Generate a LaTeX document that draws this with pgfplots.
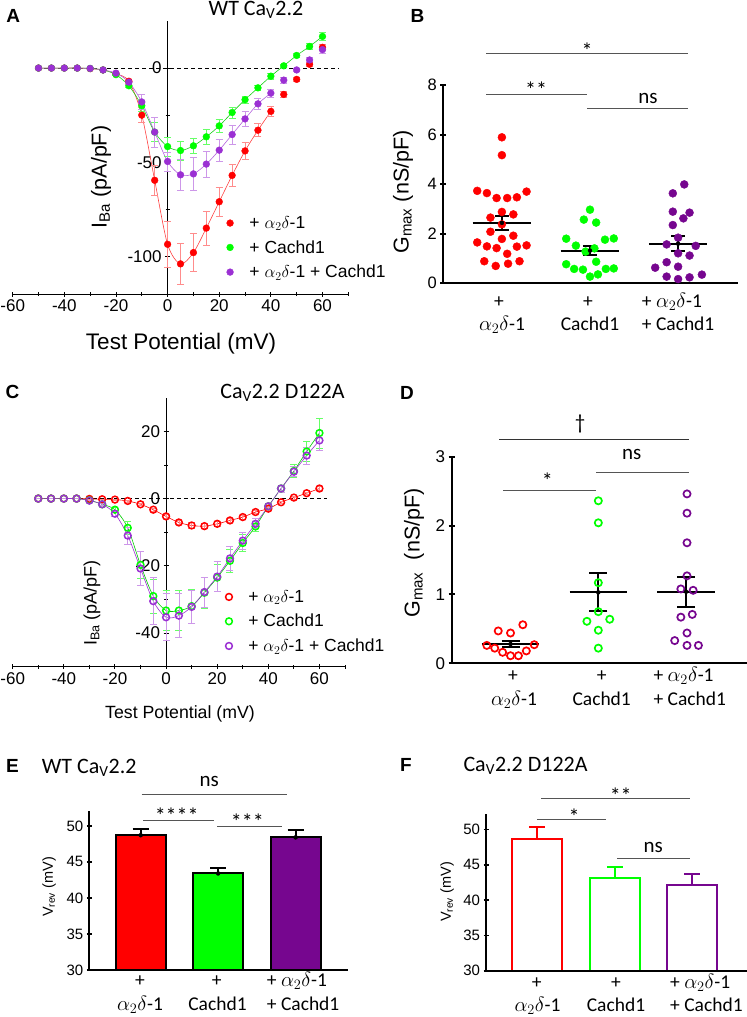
\documentclass[border=0pt]{standalone}
\usepackage{fontspec}
\setmainfont{Liberation Sans}
\newfontfamily\calib{Carlito}
\usepackage{pgfplots}
\pgfplotsset{compat=1.18}
\newcommand\fs[1]{\fontsize{#1bp}{#1bp}\selectfont}
\definecolor{cred}{HTML}{FF0000}
\definecolor{cgreen}{HTML}{00FF00}
\definecolor{cpurA}{HTML}{9B30D3}
\definecolor{cpurB}{HTML}{76068F}
\definecolor{sig}{HTML}{555555}
\pgfplotsset{
  /pgf/number format/assume math mode=true,
  noarr/.style={axis line style={-},
    every outer x axis line/.append style={-}, every outer y axis line/.append style={-},
    every inner x axis line/.append style={-}, every inner y axis line/.append style={-}},
  panel/.style={scale only axis, anchor=south west, clip=false, tick align=outside,
    tick style={black}},
  ivaxis/.style={panel, xmin=-60, xmax=70, axis x line=bottom, axis y line=center,
    xtick={-60,-40,...,60}, minor xtick={-50,-30,...,70},
    major tick length=5bp, minor tick length=4bp,
    axis line style={line width=1bp}, tick style={line width=0.9bp},
    tick label style={font=\fs{17}},
    legend cell align=left},
  legpos/.style={legend style={at={(axis description cs:#1)}, anchor=north west,
    draw=none, fill=none, inner sep=0pt, font=\fs{17.5}, row sep=8.5bp,
    nodes={inner sep=1bp}, /tikz/every odd column/.append style={column sep=15bp}}},
  errb/.style={error bars/.cd, y dir=both, y explicit,
    error bar style={draw=#1, line width=0.7bp},
    error mark options={rotate=90, draw=#1, mark size=3.5bp, line width=0.7bp}},
  fit/.style={no marks, smooth, line width=0.6bp, forget plot},
  dotaxis/.style={panel, axis x line=bottom, axis y line=left, xtick=\empty,
    major tick length=6bp, axis line style={line width=2.2bp},
    tick style={line width=2bp}},
  meanl/.style={black, line width=2bp, no marks, forget plot},
  sem/.style={black, only marks, mark=none, forget plot, error bars/.cd, y dir=both, y explicit,
    error bar style={draw=black, line width=2bp},
    error mark options={rotate=90, draw=black, mark size=#1, line width=2bp}},
  baraxis/.style={panel, clip=true, axis on top, axis x line=bottom, axis y line=left,
    xtick=\empty, ytick={30,35,...,50}, ymin=30, major tick length=5bp,
    tick label style={font=\fs{15}}},
}
\begin{document}
\begin{tikzpicture}
\useasboundingbox (0,0) rectangle (747bp,-1017bp);

% ---------- A ----------
\begin{axis}[ivaxis, at={(12.7bp,-294bp)}, width=335.6bp, height=273bp,
  ymin=-120, ymax=25, ytick={-100,-50,0}, minor ytick={-75,-25}, legpos={0.637,0.289}, noarr]
\draw[black, line width=0.9bp, dash pattern=on 4bp off 3bp] (axis cs:-50.4,0) -- (axis cs:66.4,0);
\addplot[fit, cred!75] coordinates {(-50,0)(-45,0)(-40,0)(-35,0)(-30,-0.3)(-25,-1)(-20,-3)(-15,-7)(-10,-25)(-5,-59.6)(0,-93.6)(5,-104)(10,-98)(15,-85)(20,-71)(25,-57)(30,-44)(35,-33)(40,-23)};
\addplot[fit, cgreen!80!black!90] coordinates {(-50,0)(-45,0)(-40,0)(-35,0)(-30,-0.2)(-25,-1)(-20,-3.5)(-15,-9.4)(-10,-20)(-5,-34)(0,-41.7)(5,-43.8)(10,-41.3)(15,-36.5)(20,-30.7)(25,-23.6)(30,-16.8)(35,-10.5)(40,-4.3)(45,1.2)(50,6.7)(55,11.5)(60,16.8)};
\addplot[fit, cpurA!75] coordinates {(-50,0)(-45,0)(-40,0)(-35,0)(-30,-0.2)(-25,-1)(-20,-2.7)(-15,-7.5)(-10,-18)(-5,-34)(0,-49.6)(5,-56.7)(10,-56.2)(15,-51)(20,-43.6)(25,-35.3)(30,-27)(35,-19)(40,-13.3)};
\addplot[only marks, mark=*, mark size=3.4bp, cred, errb=cred!45] table[y error=e] {
x y e
-50 0 0
-45 0 0
-40 0 0
-35 0 0
-30 -0.3 0
-25 -1 0.3
-20 -3 0.5
-15 -7 1
-10 -25 4
-5 -59.6 8
0 -93.6 12
5 -104 11
10 -98 10
15 -85 9
20 -71 7.5
25 -57 6
30 -44 4.5
35 -33 3.5
40 -23 2.5
45 -14 1.5
50 -6 1
55 2 1
60 11 1.5
};
\addlegendentry{+ $\alpha_2\delta$-1}
\addplot[only marks, mark=*, mark size=3.4bp, cgreen, errb=cgreen!60] table[y error=e] {
x y e
-50 0 0
-45 0 0
-40 0 0
-35 0 0
-30 -0.2 0
-25 -1 0.3
-20 -3.5 0.5
-15 -9.4 1
-10 -20 3
-5 -34 5
0 -41.7 5
5 -43.8 5
10 -41.3 4
15 -36.5 4
20 -30.7 3.5
25 -23.6 3
30 -16.8 2
35 -10.5 1.5
40 -4.3 1.5
45 1.2 1
50 6.7 1
55 11.5 1.5
60 16.8 2
};
\addlegendentry{+ Cachd1}
\addplot[only marks, mark=*, mark size=3.4bp, cpurA, errb=cpurA!50] table[y error=e] {
x y e
-50 0 0
-45 0 0
-40 0 0
-35 0 0
-30 -0.2 0
-25 -1 0.3
-20 -2.7 0.5
-15 -7.5 1
-10 -18 4
-5 -34 8
0 -49.6 5
5 -56.7 8
10 -56.2 9
15 -51 7
20 -43.6 6
25 -35.3 5
30 -27 4
35 -19 3
40 -13.3 2
45 -6.4 1.5
50 -1 1
55 4.3 1.5
60 9.8 2
};
\addlegendentry{+ $\alpha_2\delta$-1 + Cachd1}
\end{axis}

% ---------- C ----------
\begin{axis}[ivaxis, at={(12.7bp,-666.7bp)}, width=332.3bp, height=269bp,
  ymin=-50, ymax=30, ytick={-40,-20,0,20}, minor ytick={-30,-10,10}, legpos={0.640,0.289}, noarr]
\draw[black, line width=0.9bp, dash pattern=on 4bp off 3bp] (axis cs:-50.4,0) -- (axis cs:62.8,0);
\addplot[fit, cred] coordinates {(-50,0)(-45,0)(-40,0)(-35,0)(-30,-0.1)(-25,-0.2)(-20,-0.3)(-15,-0.7)(-10,-1.7)(-5,-3.3)(0,-5.3)(5,-7.1)(10,-8)(15,-8.2)(20,-7.5)(25,-6.5)(30,-5.5)(35,-4)(40,-3)(45,-1.1)(50,0.3)(55,1.6)(60,3)};
\addplot[fit, cgreen!80!black] coordinates {(-50,0)(-45,0)(-40,0)(-35,0)(-30,-0.5)(-25,-1.7)(-20,-3.3)(-15,-8.7)(-10,-19.7)(-5,-29)(0,-33.3)(5,-33.3)(10,-32)(15,-28)(20,-23.5)(25,-18.5)(30,-13.2)(35,-8.3)(40,-2.3)(45,3)(50,8.2)(55,14)(60,19.5)};
\addplot[fit, cpurA] coordinates {(-50,0)(-45,0)(-40,0)(-35,0)(-30,-0.6)(-25,-1.7)(-20,-4.5)(-15,-11)(-10,-20.8)(-5,-30.5)(0,-35.3)(5,-34.8)(10,-32.2)(15,-27.8)(20,-23.2)(25,-17.8)(30,-12.5)(35,-7.5)(40,-2.3)(45,3)(50,8)(55,12.8)(60,17.3)};
\addplot[only marks, mark=o, mark size=3.4bp, mark options={line width=1.5bp}, cred, errb=cred!45] table[y error=e] {
x y e
-50 0 0
-45 0 0
-40 0 0
-35 0 0
-30 -0.1 0
-25 -0.2 0
-20 -0.3 0.2
-15 -0.7 0.3
-10 -1.7 0.4
-5 -3.3 0.5
0 -5.3 0.6
5 -7.1 0.7
10 -8 0.8
15 -8.2 0.8
20 -7.5 0.8
25 -6.5 0.7
30 -5.5 0.6
35 -4 0.5
40 -3 0.5
45 -1.1 0.4
50 0.3 0.4
55 1.6 0.4
60 3 0.5
};
\addlegendentry{+ $\alpha_2\delta$-1}
\addplot[only marks, mark=o, mark size=3.4bp, mark options={line width=1.5bp}, cgreen, errb=cgreen!60] table[y error=e] {
x y e
-50 0 0
-45 0 0
-40 0 0
-35 0 0
-30 -0.5 0
-25 -1.7 0.3
-20 -3.3 0.8
-15 -8.7 2
-10 -19.7 4
-5 -29 5
0 -33.3 6
5 -33.3 6
10 -32 5
15 -28 4.5
20 -23.5 4
25 -18.5 3.5
30 -13.2 2.5
35 -8.3 1.5
40 -2.3 1
45 3 1
50 8.2 2
55 14 3
60 19.5 4.5
};
\addlegendentry{+ Cachd1}
\addplot[only marks, mark=o, mark size=3.4bp, mark options={line width=1.5bp}, cpurA, errb=cpurA!50] table[y error=e] {
x y e
-50 0 0
-45 0 0
-40 0 0
-35 0 0
-30 -0.6 0
-25 -1.7 0.3
-20 -4.5 0.8
-15 -11 2.5
-10 -20.8 5
-5 -30.5 7
0 -35.3 7
5 -34.8 6.5
10 -32.2 5
15 -27.8 4.5
20 -23.2 4.5
25 -17.8 3.5
30 -12.5 2.5
35 -7.5 1.5
40 -2.3 1
45 3 1
50 8 1.5
55 12.8 2.5
60 17.3 3
};
\addlegendentry{+ $\alpha_2\delta$-1 + Cachd1}
\end{axis}

% ---------- B ----------
\begin{axis}[dotaxis, at={(443.3bp,-283.3bp)}, width=294.7bp, height=198.3bp,
  xmin=0.335, xmax=3.68, ymin=0, ymax=8, ytick={0,2,...,8}, tick label style={font=\fs{16.5}}, noarr]
\addplot[only marks, mark=*, mark size=4bp, cred] coordinates {
(1.00,5.89)(1.00,5.17)(0.72,3.73)(0.83,3.64)(0.94,3.44)(1.06,3.44)(1.17,3.47)(1.28,3.70)
(1.00,2.88)(0.87,2.65)(1.13,2.78)(1.00,2.38)(0.87,2.08)(1.13,1.92)(1.00,1.79)(0.72,1.65)
(0.83,1.49)(0.94,1.42)(1.17,1.48)(1.28,1.53)(1.06,1.19)(0.80,0.89)(1.20,0.89)(0.93,0.70)(1.07,0.79)};
\addplot[only marks, mark=*, mark size=4bp, cgreen] coordinates {
(2.00,2.97)(1.93,2.57)(2.07,2.45)(1.73,1.80)(2.27,1.81)(2.17,1.76)(1.84,1.52)(1.95,1.28)
(2.05,1.41)(2.07,0.87)(1.73,0.77)(1.82,0.58)(1.92,0.55)(2.00,0.27)(2.09,0.36)(2.18,0.58)(2.27,0.60)};
\addplot[only marks, mark=*, mark size=4bp, cpurB] coordinates {
(3.07,3.99)(2.94,3.63)(2.94,2.89)(3.13,2.85)(3.06,2.62)(2.94,2.35)(3.00,1.84)(2.87,1.57)
(3.20,1.51)(3.00,1.21)(3.13,1.12)(2.87,0.85)(2.74,0.63)(3.00,0.67)(2.87,0.27)(3.00,0.17)(3.13,0.24)(3.27,0.35)};
\addplot[meanl] coordinates {(0.667,2.44)(1.333,2.44)};
\addplot[meanl] coordinates {(1.667,1.32)(2.333,1.32)};
\addplot[meanl] coordinates {(2.667,1.60)(3.333,1.60)};
\addplot[sem=7bp] coordinates {(1,2.44) +- (0,0.29) (2,1.32) +- (0,0.18) (3,1.60) +- (0,0.29)};
\end{axis}

% ---------- D ----------
\begin{axis}[dotaxis, at={(451.7bp,-663.3bp)}, width=295bp, height=206.6bp,
  xmin=0.33, xmax=3.69, ymin=0, ymax=3, ytick={0,1,2,3}, tick label style={font=\fs{17}}, noarr]
\addplot[only marks, mark=o, mark size=3.6bp, mark options={line width=1.7bp}, cred] coordinates {
(0.86,0.47)(1.00,0.44)(1.14,0.56)(0.73,0.26)(0.82,0.22)(0.91,0.16)(1.00,0.11)(1.09,0.11)(1.18,0.18)(1.27,0.27)};
\addplot[only marks, mark=o, mark size=3.6bp, mark options={line width=1.7bp}, cgreen] coordinates {
(2.00,2.36)(2.00,2.04)(2.00,1.17)(2.00,0.75)(1.87,0.61)(2.13,0.64)(2.00,0.48)(2.00,0.22)};
\addplot[only marks, mark=o, mark size=3.6bp, mark options={line width=1.7bp}, cpurB] coordinates {
(3.01,2.46)(3.01,2.18)(3.01,1.75)(3.01,1.27)(2.94,1.08)(3.08,1.06)(2.94,0.67)(3.07,0.71)(3.01,0.44)(2.87,0.33)(3.01,0.26)(3.14,0.26)};
\addplot[meanl] coordinates {(0.672,0.28)(1.328,0.28)};
\addplot[meanl] coordinates {(1.672,1.03)(2.328,1.03)};
\addplot[meanl] coordinates {(2.672,1.04)(3.328,1.04)};
\addplot[sem=9bp] coordinates {(1,0.28) +- (0,0.05) (2,1.03) +- (0,0.275) (3,1.04) +- (0,0.22)};
\end{axis}

% ---------- E ----------
\begin{axis}[baraxis, at={(89.3bp,-970bp)}, width=259bp, height=159.3bp,
  xmin=0.337, xmax=3.68, ymax=52.1, axis line style={line width=2bp}, tick style={line width=1.8bp}, noarr]
\addplot[ybar, bar width=50bp, bar shift=0pt, fill=cred, draw=black, line width=2bp] coordinates {(1,48.7)};
\addplot[ybar, bar width=50bp, bar shift=0pt, fill=cgreen, draw=black, line width=2bp] coordinates {(2,43.4)};
\addplot[ybar, bar width=50bp, bar shift=0pt, fill=cpurB, draw=black, line width=2bp] coordinates {(3,48.4)};
\addplot[black, only marks, mark=none, error bars/.cd, y dir=plus, y explicit,
  error bar style={draw=black, line width=2bp},
  error mark options={rotate=90, draw=black, mark size=8bp, line width=2bp}]
  coordinates {(1,48.7) +- (0,0.8) (2,43.4) +- (0,0.8) (3,48.4) +- (0,1.0)};
\end{axis}

% ---------- F ----------
\begin{axis}[baraxis, at={(486bp,-970.7bp)}, width=260.7bp, height=156.7bp,
  xmin=0.339, xmax=3.70, ymax=52.2, axis line style={line width=1.8bp}, tick style={line width=1.6bp}, noarr]
\addplot[ybar, bar width=50bp, bar shift=0pt, fill=white, draw=cred, line width=2bp,
  error bars/.cd, y dir=plus, y explicit, error bar style={draw=cred, line width=2bp},
  error mark options={rotate=90, draw=cred, mark size=8bp, line width=2bp}]
  coordinates {(1,48.7) +- (0,1.6)};
\addplot[ybar, bar width=50bp, bar shift=0pt, fill=white, draw=cgreen, line width=2bp,
  error bars/.cd, y dir=plus, y explicit, error bar style={draw=cgreen, line width=2bp},
  error mark options={rotate=90, draw=cgreen, mark size=8bp, line width=2bp}]
  coordinates {(2,43.2) +- (0,1.5)};
\addplot[ybar, bar width=50bp, bar shift=0pt, fill=white, draw=cpurB, line width=2bp,
  error bars/.cd, y dir=plus, y explicit, error bar style={draw=cpurB, line width=2bp},
  error mark options={rotate=90, draw=cpurB, mark size=8bp, line width=2bp}]
  coordinates {(3,42.1) +- (0,1.6)};
\end{axis}

% ---------- panel letters and titles ----------
\begin{scope}[every node/.style={font=\bfseries\fs{19}}]
\node at (13.3bp,-16.3bp) {A};
\node at (417.5bp,-16.3bp) {B};
\node at (12.5bp,-392bp) {C};
\node at (407bp,-393.3bp) {D};
\node at (12.5bp,-766.3bp) {E};
\node at (406bp,-765bp) {F};
\end{scope}
\node[font=\calib\fs{22}, anchor=base] at (256bp,-15bp) {WT Ca\textsubscript{V}2.2};
\node[font=\calib\fs{22}, anchor=base] at (282.5bp,-398.3bp) {Ca\textsubscript{V}2.2 D122A};
\node[font=\calib\fs{22}, anchor=base west, inner sep=0pt] at (41.7bp,-773.3bp) {WT Ca\textsubscript{V}2.2};
\node[font=\calib\fs{22}, anchor=base west, inner sep=0pt] at (463.3bp,-771.7bp) {Ca\textsubscript{V}2.2 D122A};

% ---------- axis labels ----------
\node[font=\fs{22.5}, anchor=base] at (181bp,-349.3bp) {Test Potential (mV)};
\node[font=\fs{17.7}, anchor=base] at (180bp,-718.3bp) {Test Potential (mV)};
\node[font=\fs{21.5}, rotate=90] at (101bp,-177bp) {I\textsubscript{Ba} (pA/pF)};
\node[font=\fs{18}, rotate=90] at (92bp,-603bp) {I\textsubscript{Ba} (pA/pF)};
\node[font=\fs{21.5}, rotate=90] at (403bp,-192bp) {G\textsubscript{max} (nS/pF)};
\node[font=\fs{21.5}, rotate=90] at (414bp,-553bp) {G\textsubscript{max}\ \ (nS/pF)};
\node[font=\fs{14.5}, rotate=90] at (49bp,-887bp) {V\textsubscript{rev} (mV)};
\node[font=\fs{14.5}, rotate=90] at (447bp,-892bp) {V\textsubscript{rev} (mV)};

% ---------- category labels ----------
\begin{scope}[every node/.style={font=\calib\fs{19.5}, inner sep=0pt}]
% B
\node[anchor=base] at (499bp,-307bp) {+};
\node[anchor=base] at (502bp,-330bp) {$\alpha_2\delta$-1};
\node[anchor=base] at (588bp,-307bp) {+};
\node[anchor=base] at (590bp,-330bp) {Cachd1};
\node[anchor=base west] at (641.7bp,-307bp) {+ $\alpha_2\delta$-1};
\node[anchor=base west] at (641.7bp,-330bp) {+ Cachd1};
% D
\node[anchor=base] at (513bp,-681.7bp) {+};
\node[anchor=base] at (514bp,-705bp) {$\alpha_2\delta$-1};
\node[anchor=base] at (601.7bp,-681.7bp) {+};
\node[anchor=base] at (601.7bp,-705bp) {Cachd1};
\node[anchor=base west] at (653.3bp,-681.7bp) {+ $\alpha_2\delta$-1};
\node[anchor=base west] at (653.3bp,-705bp) {+ Cachd1};
% E
\node[anchor=base] at (140bp,-986.7bp) {+};
\node[anchor=base] at (140bp,-1010.7bp) {$\alpha_2\delta$-1};
\node[anchor=base] at (216.7bp,-986.7bp) {+};
\node[anchor=base] at (217.5bp,-1010.7bp) {Cachd1};
\node[anchor=base west] at (266.7bp,-986.7bp) {+ $\alpha_2\delta$-1};
\node[anchor=base west] at (266.7bp,-1010.7bp) {+ Cachd1};
% F
\node[anchor=base] at (536.7bp,-988.3bp) {+};
\node[anchor=base] at (537.5bp,-1011.7bp) {$\alpha_2\delta$-1};
\node[anchor=base] at (616bp,-988.3bp) {+};
\node[anchor=base] at (616bp,-1011.7bp) {Cachd1};
\node[anchor=base west] at (670bp,-988.3bp) {+ $\alpha_2\delta$-1};
\node[anchor=base west] at (670bp,-1011.7bp) {+ Cachd1};
\end{scope}

% ---------- significance bars ----------
\begin{scope}[line width=0.9bp]
\draw[sig] (486bp,-53.3bp) -- (688.3bp,-53.3bp);
\draw[sig] (486bp,-94bp) -- (587.3bp,-94bp);
\draw[sig] (587.3bp,-108.3bp) -- (688.3bp,-108.3bp);
\draw[black!80] (499.3bp,-439.3bp) -- (689.3bp,-439.3bp);
\draw[sig] (596bp,-472.3bp) -- (689.3bp,-472.3bp);
\draw[sig] (503.3bp,-490bp) -- (596bp,-490bp);
\draw[sig] (141.7bp,-794bp) -- (286.7bp,-794bp);
\draw[sig] (143.3bp,-820bp) -- (214bp,-820bp);
\draw[sig] (217.3bp,-826.7bp) -- (282.3bp,-826.7bp);
\draw[sig] (541bp,-798.3bp) -- (690bp,-798.3bp);
\draw[sig] (537.3bp,-819bp) -- (606bp,-819bp);
\draw[sig] (617.3bp,-858.3bp) -- (690bp,-858.3bp);
\end{scope}
\begin{scope}[every node/.style={font=\calib\fs{22}, inner sep=0pt, anchor=base}]
\node at (587bp,-58.1bp) {*};
\node at (536bp,-97.4bp) {**};
\node[font=\calib\fs{21}] at (648bp,-103.2bp) {ns};
\node[font=\calib\fs{21}] at (580bp,-429.6bp) {\textdagger};
\node[font=\calib\fs{21}] at (631.7bp,-459.2bp) {ns};
\node at (547.3bp,-488.1bp) {*};
\node[font=\calib\fs{21}] at (209.3bp,-786.6bp) {ns};
\node at (176.7bp,-823.1bp) {****};
\node at (247.3bp,-829.7bp) {***};
\node at (620.7bp,-803.1bp) {**};
\node at (574bp,-824.1bp) {*};
\node[font=\calib\fs{21}] at (653.3bp,-852.2bp) {ns};
\end{scope}
\end{tikzpicture}
\end{document}
